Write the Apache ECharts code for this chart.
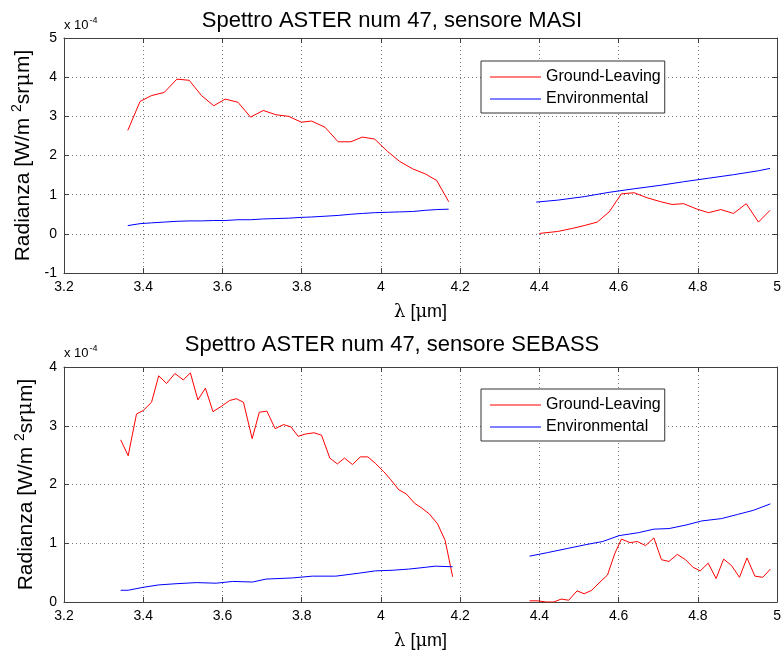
<!DOCTYPE html>
<html>
<head>
<meta charset="utf-8">
<script src="https://cdn.jsdelivr.net/npm/echarts@6/dist/echarts.min.js"></script>
<style>
  html, body { margin: 0; padding: 0; background: #fff; }
  #chart { width: 784px; height: 653px; }
</style>
</head>
<body>
<div id="chart"></div>
<script>
// values in units of 1e-4 W/m2 sr um
var masiLamA = [3.361,3.392,3.421,3.453,3.485,3.516,3.547,3.578,3.607,3.639,3.671,3.703,3.735,3.767,3.799,3.825,3.859,3.892,3.924,3.953,3.984,4.016,4.047,4.080,4.112,4.141,4.171];
var masiGroundA = [2.64,3.38,3.53,3.61,3.95,3.92,3.53,3.27,3.44,3.36,2.98,3.15,3.04,3.00,2.85,2.88,2.72,2.35,2.35,2.47,2.42,2.11,1.85,1.66,1.53,1.36,0.82];
var masiEnvA = [0.21,0.26,0.28,0.30,0.32,0.33,0.33,0.34,0.34,0.36,0.36,0.38,0.39,0.40,0.42,0.43,0.45,0.47,0.50,0.52,0.54,0.55,0.56,0.57,0.60,0.62,0.63];
var masiLamB = [4.400,4.446,4.484,4.513,4.546,4.576,4.607,4.639,4.672,4.706,4.735,4.764,4.798,4.827,4.858,4.890,4.922,4.953,4.982];
var masiGroundB = [0.01,0.06,0.14,0.21,0.30,0.56,1.02,1.05,0.92,0.82,0.75,0.77,0.63,0.54,0.62,0.52,0.77,0.30,0.60];
var masiEnvLamB = [4.392,4.446,4.513,4.576,4.639,4.706,4.764,4.827,4.890,4.953,4.982];
var masiEnvB = [0.81,0.86,0.95,1.06,1.15,1.24,1.33,1.42,1.51,1.61,1.67];

var sebLamA = [3.343,3.362,3.383,3.400,3.421,3.439,3.459,3.480,3.501,3.519,3.538,3.557,3.576,3.597,3.618,3.635,3.653,3.675,3.693,3.712,3.733,3.754,3.773,3.791,3.810,3.831,3.850,3.871,3.890,3.908,3.928,3.948,3.967,3.986,4.007,4.025,4.045,4.064,4.085,4.103,4.122,4.143,4.162,4.181];
var sebGroundA = [2.76,2.49,3.20,3.26,3.40,3.85,3.72,3.89,3.78,3.90,3.44,3.64,3.24,3.33,3.43,3.46,3.40,2.78,3.23,3.25,2.95,3.02,2.98,2.82,2.86,2.88,2.84,2.45,2.35,2.45,2.34,2.47,2.47,2.36,2.22,2.08,1.91,1.84,1.68,1.60,1.50,1.33,1.05,0.43];
var sebEnvLamA = [3.343,3.362,3.400,3.438,3.480,3.534,3.584,3.626,3.676,3.710,3.777,3.827,3.886,3.944,3.986,4.028,4.070,4.112,4.137,4.181];
var sebEnvA = [0.20,0.20,0.25,0.29,0.31,0.33,0.32,0.35,0.34,0.39,0.41,0.44,0.44,0.49,0.53,0.54,0.56,0.59,0.61,0.60];
var sebLamB = [4.375,4.396,4.417,4.436,4.455,4.474,4.495,4.513,4.532,4.553,4.572,4.590,4.607,4.629,4.647,4.668,4.689,4.708,4.727,4.748,4.769,4.788,4.806,4.826,4.846,4.865,4.885,4.905,4.924,4.944,4.964,4.983];
var sebGroundB = [0.02,0.02,0.00,0.00,0.05,0.03,0.19,0.14,0.20,0.34,0.46,0.82,1.07,1.01,1.03,0.96,1.09,0.72,0.69,0.81,0.72,0.59,0.53,0.66,0.40,0.73,0.62,0.42,0.75,0.44,0.42,0.56];
var sebEnvLamB = [4.375,4.42,4.47,4.52,4.56,4.601,4.65,4.689,4.727,4.77,4.81,4.86,4.90,4.94,4.983];
var sebEnvB = [0.78,0.84,0.91,0.98,1.03,1.13,1.18,1.24,1.25,1.31,1.38,1.42,1.49,1.56,1.67];

var titles = ['Spettro ASTER num 47, sensore MASI', 'Spettro ASTER num 47, sensore SEBASS'];
var seriesNames = ['Ground-Leaving', 'Environmental'];

var FONT = 'Liberation Sans, Arial, sans-serif';
var SERIF = 'DejaVu Serif, serif';
var AXIS_COLOR = '#404040';

function pairs(xs, ys) {
  return xs.map(function (x, i) { return [x, ys[i]]; });
}

function line(name, color, xi, yi, data) {
  return {
    type: 'line', name: name, xAxisIndex: xi, yAxisIndex: yi,
    data: data, symbol: 'none', showSymbol: false,
    lineStyle: { color: color, width: 1 }, itemStyle: { color: color },
    emphasis: { disabled: true }
  };
}

function xAx(grid, pos, labels) {
  return {
    type: 'value', gridIndex: grid, position: pos, min: 3.2, max: 5, interval: 0.2,
    axisLine: { show: true, onZero: false, lineStyle: { color: AXIS_COLOR, width: 1 } },
    axisTick: { show: true, inside: true, length: 5, lineStyle: { color: AXIS_COLOR } },
    axisLabel: { show: labels, color: '#000', fontSize: 14, fontFamily: FONT, margin: 7 },
    splitLine: { show: labels, lineStyle: { color: '#777', type: [1, 3], width: 1 } },
    name: labels ? '{s|λ} [{s|μ}m]' : '', nameLocation: 'middle', nameGap: 30,
    nameTextStyle: {
      color: '#000', fontSize: 18, fontFamily: FONT,
      rich: { s: { fontSize: 18, fontFamily: SERIF, color: '#000' } }
    }
  };
}

function yAx(grid, pos, min, max, labels) {
  return {
    type: 'value', gridIndex: grid, position: pos, min: min, max: max, interval: 1,
    axisLine: { show: true, onZero: false, lineStyle: { color: AXIS_COLOR, width: 1 } },
    axisTick: { show: true, inside: true, length: 5, lineStyle: { color: AXIS_COLOR } },
    axisLabel: { show: labels, color: '#000', fontSize: 14, fontFamily: FONT, margin: 7 },
    splitLine: { show: labels, lineStyle: { color: '#777', type: [1, 3], width: 1 } },
    name: labels ? 'Radianza [W/m {sup|2}sr{mu|μ}m]' : '', nameLocation: 'middle', nameGap: 25, nameRotate: 90,
    nameTextStyle: {
      color: '#000', fontSize: 21, fontFamily: FONT,
      rich: {
        sup: { fontSize: 14, fontFamily: FONT, color: '#000', padding: [0, 0, 12, 0] },
        mu: { fontSize: 21, fontFamily: SERIF, color: '#000' }
      }
    }
  };
}

function legend(top) {
  return {
    data: seriesNames, orient: 'vertical', left: 481, top: top,
    width: 186, itemWidth: 51, itemHeight: 1, itemGap: 4,
    icon: 'rect',
    padding: [7, 4, 5, 9],
    backgroundColor: '#fff', borderColor: '#333', borderWidth: 1,
    textStyle: { color: '#000', fontSize: 16, fontFamily: FONT, lineHeight: 18 },
    selectedMode: false
  };
}

function multiplier(top) {
  return {
    type: 'text', left: 64, top: top,
    style: {
      text: '{a|x 10}{b|-4}',
      rich: {
        a: { fontSize: 13, fontFamily: FONT, fill: '#000' },
        b: { fontSize: 9, fontFamily: FONT, fill: '#000', padding: [0, 0, 9, 1] }
      }
    }
  };
}

var chart = echarts.init(document.getElementById('chart'), null, { renderer: 'canvas' });
chart.setOption({
  animation: false,
  backgroundColor: '#fff',
  title: [
    { text: titles[0], left: 'center', top: 5, textStyle: { fontSize: 22, fontWeight: 'normal', color: '#000', fontFamily: FONT } },
    { text: titles[1], left: 'center', top: 329, textStyle: { fontSize: 22, fontWeight: 'normal', color: '#000', fontFamily: FONT } }
  ],
  grid: [
    { left: 64, top: 38, width: 717, height: 235 },
    { left: 64, top: 367, width: 717, height: 235 }
  ],
  xAxis: [xAx(0, 'bottom', true), xAx(0, 'top', false), xAx(1, 'bottom', true), xAx(1, 'top', false)],
  yAxis: [yAx(0, 'left', -1, 5, true), yAx(0, 'right', -1, 5, false), yAx(1, 'left', 0, 4, true), yAx(1, 'right', 0, 4, false)],
  legend: [legend(61), legend(389)],
  graphic: [multiplier(16), multiplier(344)],
  series: [
    line(seriesNames[0], '#ff0000', 0, 0, pairs(masiLamA, masiGroundA)),
    line(seriesNames[1], '#0000ff', 0, 0, pairs(masiLamA, masiEnvA)),
    line(seriesNames[0], '#ff0000', 0, 0, pairs(masiLamB, masiGroundB)),
    line(seriesNames[1], '#0000ff', 0, 0, pairs(masiEnvLamB, masiEnvB)),
    line(seriesNames[0], '#ff0000', 2, 2, pairs(sebLamA, sebGroundA)),
    line(seriesNames[1], '#0000ff', 2, 2, pairs(sebEnvLamA, sebEnvA)),
    line(seriesNames[0], '#ff0000', 2, 2, pairs(sebLamB, sebGroundB)),
    line(seriesNames[1], '#0000ff', 2, 2, pairs(sebEnvLamB, sebEnvB))
  ]
});
</script>
</body>
</html>
